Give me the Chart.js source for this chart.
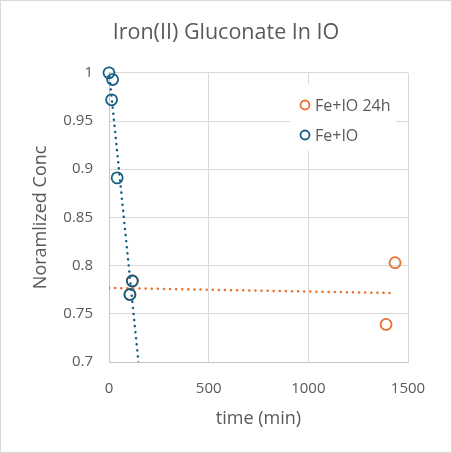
<!DOCTYPE html>
<html>
<head>
<meta charset="utf-8">
<script src="https://cdn.jsdelivr.net/npm/chart.js@4.4.0/dist/chart.umd.min.js"></script>
<style>
  html, body { margin: 0; padding: 0; background: #fff; }
  #wrap { width: 452px; height: 453px; }
</style>
</head>
<body>
<div id="wrap"><canvas id="concChart" width="452" height="453"></canvas></div>
<script>
// values
var chartTitle = "Iron(II) Gluconate In IO";
var xTitle = "time (min)";
var yTitle = "Noramlized Conc";

var seriesNames = ["Fe+IO 24h", "Fe+IO"];

var fe24hTime = [105, 117, 1390, 1435];
var fe24hConc = [0.770, 0.784, 0.739, 0.803];

var feTime = [0, 13, 18, 41, 105, 117];
var feConc = [1.000, 0.972, 0.993, 0.891, 0.770, 0.784];

var xTicks = [0, 500, 1000, 1500];
var yTicks = [0.7, 0.75, 0.8, 0.85, 0.9, 0.95, 1];

var orange = "#E97132";
var blue = "#156082";
var textGrey = "#595959";
var FONT = "'Open Sans', sans-serif";

function toPoints(xs, ys) {
  var pts = [];
  for (var i = 0; i < xs.length; i++) pts.push({ x: xs[i], y: ys[i] });
  return pts;
}

// least squares line, like an Excel linear trendline
function linFit(xs, ys) {
  var n = xs.length, sx = 0, sy = 0, sxx = 0, sxy = 0;
  for (var i = 0; i < n; i++) {
    sx += xs[i]; sy += ys[i];
    sxx += xs[i] * xs[i]; sxy += xs[i] * ys[i];
  }
  var m = (n * sxy - sx * sy) / (n * sxx - sx * sx);
  return { m: m, b: (sy - m * sx) / n };
}

var fit24 = linFit(fe24hTime, fe24hConc);
var fitFe = linFit(feTime, feConc);
var feEnd = (yTicks[0] - 0.01 - fitFe.b) / fitFe.m;   // run on past the axis floor, gets clipped
var f24End = 1420;

var trendStyle = {
  showLine: true,
  pointRadius: 0,
  pointHoverRadius: 0,
  borderWidth: 2.5,
  borderDash: [0.1, 6],
  borderCapStyle: "round",
  fill: false,
  isTrend: true
};

/**
 * plugins: outer frame + legend inside the plot
 */

var framePlugin = {
  id: "frame",
  beforeDraw: function (chart) {
    var c = chart.ctx;
    c.save();
    c.fillStyle = "#fff";
    c.fillRect(0, 0, chart.width, chart.height);
    c.strokeStyle = "#d9d9d9";
    c.lineWidth = 1;
    c.strokeRect(0.5, 0.5, chart.width - 1, chart.height - 1);
    c.restore();
  }
};

var insideLegend = {
  id: "insideLegend",
  beforeDatasetsDraw: function (chart) {
    var c = chart.ctx;
    var sets = chart.data.datasets.filter(function (d) { return !d.isTrend; });
    c.save();
    c.fillStyle = "#fff";
    c.fillRect(290, 84, 106, 67);
    c.font = "16px " + FONT;
    c.textBaseline = "middle";
    for (var i = 0; i < sets.length; i++) {
      var y = 105 + i * 30;
      c.beginPath();
      c.arc(305, y, 4.5, 0, Math.PI * 2);
      c.strokeStyle = sets[i].borderColor;
      c.lineWidth = 1.8;
      c.stroke();
      c.fillStyle = textGrey;
      c.fillText(sets[i].label, 315, y + 1);
    }
    c.restore();
  }
};

var ctx = document.getElementById("concChart").getContext("2d");
var concChart = new Chart(ctx, {
  type: "scatter",
  data: {
    datasets: [
      {
        label: seriesNames[0],
        data: toPoints(fe24hTime, fe24hConc),
        borderColor: orange,
        backgroundColor: "rgba(0,0,0,0)",
        pointRadius: 5.5,
        pointBorderWidth: 1.8,
        clip: false,
        order: 3
      },
      {
        label: seriesNames[1],
        data: toPoints(feTime, feConc),
        borderColor: blue,
        backgroundColor: "rgba(0,0,0,0)",
        pointRadius: 5.5,
        pointBorderWidth: 1.8,
        clip: false,
        order: 1
      },
      Object.assign({
        label: "trend 24h",
        data: [{ x: 0, y: fit24.b }, { x: f24End, y: fit24.m * f24End + fit24.b }],
        borderColor: orange,
        order: 4
      }, trendStyle),
      Object.assign({
        label: "trend",
        data: [{ x: 0, y: fitFe.b }, { x: feEnd, y: fitFe.m * feEnd + fitFe.b }],
        borderColor: blue,
        order: 2
      }, trendStyle)
    ]
  },
  options: {
    responsive: false,
    animation: false,
    devicePixelRatio: 1,
    layout: { padding: { left: 20, right: 20, top: 0, bottom: 23 } },
    plugins: {
      legend: { display: false },
      tooltip: { enabled: false },
      title: {
        display: true,
        text: chartTitle,
        color: textGrey,
        font: { family: FONT, size: 21.5, weight: "normal" },
        padding: { top: 20, bottom: 27 }
      }
    },
    scales: {
      x: {
        type: "linear",
        min: 0,
        max: 1500,
        afterBuildTicks: function (scale) {
          scale.ticks = xTicks.map(function (v) { return { value: v }; });
        },
        afterFit: function (scale) { scale.height = 68; },
        grid: { color: "#d9d9d9", drawTicks: false },
        border: { color: "#c6c6c6" },
        ticks: {
          color: textGrey,
          font: { family: FONT, size: 15 },
          padding: 18,
          callback: function (v) { return String(v); }
        },
        title: {
          display: true,
          text: xTitle,
          color: textGrey,
          font: { family: FONT, size: 18 },
          padding: { top: 11, bottom: 0 }
        }
      },
      y: {
        type: "linear",
        min: 0.7,
        max: 1,
        afterBuildTicks: function (scale) {
          scale.ticks = yTicks.map(function (v) { return { value: v }; });
        },
        afterFit: function (scale) { scale.width = 89; },
        grid: { color: "#d9d9d9", drawTicks: false },
        border: { color: "#c6c6c6" },
        ticks: {
          color: textGrey,
          font: { family: FONT, size: 15 },
          padding: 16,
          callback: function (v) { return String(Math.round(v * 100) / 100); }
        },
        title: {
          display: true,
          text: yTitle,
          color: textGrey,
          font: { family: FONT, size: 18 },
          padding: { top: 10, bottom: 0 }
        }
      },
      // empty right-hand axis, only keeps the plot right edge where the reference has it
      yRight: {
        type: "linear",
        position: "right",
        afterFit: function (scale) { scale.width = 24; },
        grid: { display: false, drawTicks: false },
        border: { display: false },
        ticks: { display: false }
      }
    }
  },
  plugins: [framePlugin, insideLegend]
});

console.log(JSON.stringify(concChart.chartArea));
</script>
</body>
</html>
